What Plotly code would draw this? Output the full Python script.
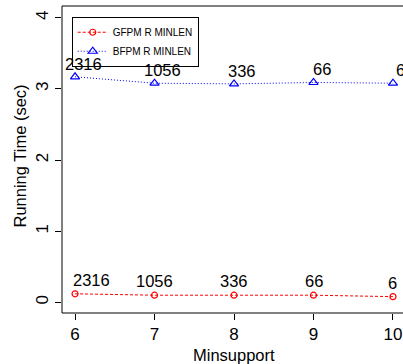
import plotly.graph_objects as go

minsupport = [6, 7, 8, 9, 10]
gfpm_time = [0.12, 0.10, 0.10, 0.10, 0.08]
bfpm_time = [3.17, 3.08, 3.07, 3.09, 3.08]
counts = ["2316", "1056", "336", "66", "6"]
yticks = [0, 1, 2, 3, 4]

FONT = "Liberation Sans, Arial, Helvetica, sans-serif"
RED = "#FF0000"
BLUE = "#0000FF"

fig = go.Figure()
fig.add_trace(go.Scatter(
    x=minsupport, y=gfpm_time, mode="lines+markers", name="GFPM R MINLEN",
    line=dict(color=RED, width=1, dash="3px,2px"),
    marker=dict(symbol="circle-open", size=6, color=RED, line=dict(width=1.2, color=RED)),
))
fig.add_trace(go.Scatter(
    x=minsupport, y=bfpm_time, mode="lines+markers", name="BFPM R MINLEN",
    line=dict(color=BLUE, width=1, dash="1px,2px"),
    marker=dict(symbol="triangle-up-open", size=8, color=BLUE, line=dict(width=1.2, color=BLUE)),
))

annotations = []
for i, (xv, yv, lab) in enumerate(zip(minsupport, bfpm_time, counts)):
    annotations.append(dict(x=xv, y=yv, text=lab, showarrow=False, xref="x", yref="y",
                            xshift=8, yshift=13, font=dict(family=FONT, size=16.5, color="black")))
for i, (xv, yv, lab) in enumerate(zip(minsupport, gfpm_time, counts)):
    annotations.append(dict(x=xv, y=yv, text=lab, showarrow=False, xref="x", yref="y",
                            xshift=16 if i == 0 else 0, yshift=14, font=dict(family=FONT, size=16.5, color="black")))

annotations.append(dict(text="Running Time (sec)", xref="paper", yref="paper", x=0, y=0.5,
                        xanchor="center", yanchor="middle",
                        xshift=-43, yshift=3, textangle=-90, showarrow=False,
                        font=dict(family=FONT, size=16.5, color="black")))
annotations.append(dict(text="Minsupport", xref="paper", yref="paper", x=0.504, y=0,
                        xanchor="center", yshift=-42, showarrow=False, yanchor="middle",
                        font=dict(family=FONT, size=16.5, color="black")))

fig.update_layout(
    width=403, height=364,
    margin=dict(l=62, r=0, t=6, b=51),
    paper_bgcolor="white", plot_bgcolor="white",
    font=dict(family=FONT, color="black"),
    showlegend=True,
    legend=dict(x=0.0285, y=0.965, xanchor="left", yanchor="top",
                bordercolor="black", borderwidth=1, bgcolor="white",
                font=dict(family=FONT, size=10, color="black"),
                itemwidth=30, tracegroupgap=0),
    annotations=annotations,
    shapes=[dict(type="rect", xref="paper", yref="paper", x0=0, x1=1.05, y0=0, y1=1,
                 line=dict(color="black", width=1), layer="above")],
)
fig.update_xaxes(range=[5.836, 10.126], tickvals=minsupport, ticktext=[str(v) for v in minsupport],
                 ticks="outside", ticklen=6, tickcolor="black", showgrid=False, zeroline=False,
                 showline=False, tickfont=dict(family=FONT, size=17, color="black"))
fig.update_yaxes(range=[-0.15, 4.165], tickvals=yticks, ticktext=[str(v) for v in yticks],
                 ticks="outside", ticklen=6, tickcolor="black", showgrid=False, zeroline=False,
                 showline=False, tickangle=-90, tickfont=dict(family=FONT, size=17, color="black"))

fig.write_html("out.html")
